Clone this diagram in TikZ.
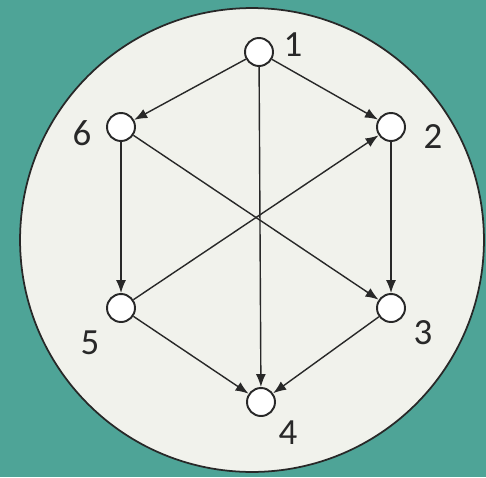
\documentclass[tikz,border=0pt]{standalone}
\usepackage{fontspec}
\setmainfont{Carlito}
\usetikzlibrary{arrows.meta}
\definecolor{TealBack}{RGB}{78,164,151}
\definecolor{PaleDisc}{RGB}{241,242,236}
\definecolor{InkGray}{RGB}{40,40,40}
\tikzset{
  vertex/.style={circle,draw=InkGray,fill=white,line width=1.1pt,
    minimum size=0.56cm,inner sep=0pt},
  numlabel/.style={font=\fontsize{21}{24}\selectfont,text=InkGray,inner sep=0pt},
  edge/.style={-{Latex[length=0.26cm,width=0.2cm]},line width=0.8pt,InkGray}
}
\begin{document}
\begin{tikzpicture}[x=0.02cm,y=-0.02cm]
  % background and disc
  \fill[TealBack] (0,0) rectangle (486,477);
  \draw[draw=InkGray,fill=PaleDisc,line width=1pt] (252,240) circle[radius=4.64cm];
  % vertices
  \node[vertex] (v1) at (259,52) {};
  \node[vertex] (v2) at (391,127) {};
  \node[vertex] (v3) at (391,308) {};
  \node[vertex] (v4) at (261,402) {};
  \node[vertex] (v5) at (121,308) {};
  \node[vertex] (v6) at (121,127) {};
  % numbers
  \node[numlabel] (l1) at (293,45) {1};
  \node[numlabel] (l2) at (433,137) {2};
  \node[numlabel] (l3) at (423,333) {3};
  \node[numlabel] (l4) at (288,433) {4};
  \node[numlabel] (l5) at (90,343) {5};
  \node[numlabel] (l6) at (82,133) {6};
  % arcs
  \draw[edge] (v1) -- (v6);
  \draw[edge] (v1) -- (v2);
  \draw[edge] (v1) -- (v4);
  \draw[edge] (v6) -- (v5);
  \draw[edge] (v6) -- (v3);
  \draw[edge] (v2) -- (v3);
  \draw[edge] (v5) -- (v2);
  \draw[edge] (v5) -- (v4);
  \draw[edge] (v3) -- (v4);
\end{tikzpicture}
\end{document}
